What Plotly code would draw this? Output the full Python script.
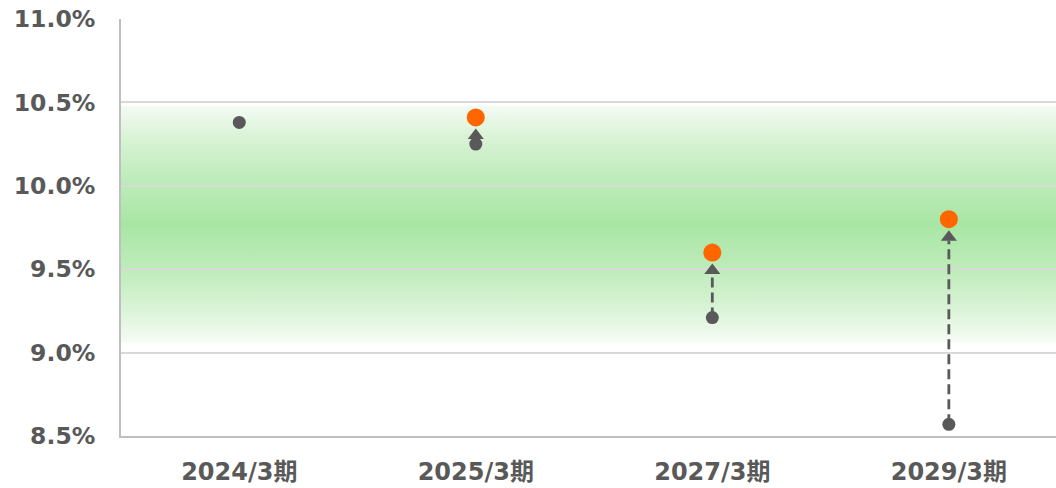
import base64
import plotly.graph_objects as go

categories = ["2024/3期", "2025/3期", "2027/3期", "2029/3期"]
before_values = [10.38, 10.25, 9.21, 8.57]      # gray points
after_values = [None, 10.41, 9.60, 9.80]        # orange points
band_low = 9.06
band_high = 10.48
tick_values = [8.5, 9.0, 9.5, 10.0, 10.5, 11.0]
tick_labels = ["8.5%", "9.0%", "9.5%", "10.0%", "10.5%", "11.0%"]

GRAY = "#595959"
ORANGE = "#FF6600"
FONT = "DejaVu Sans, Verdana, Noto Sans CJK JP, sans-serif"

# pixel -> data conversion for arrow offsets (plot height 417px spans 2.5 units)
PX = (tick_values[-1] - tick_values[0]) / 417.0
TIP_GAP = 11 * PX      # arrow tip gap below orange centre
HEAD_H = 10.5 * PX     # triangle height

fig = go.Figure()

# arrows (dashed shaft + triangle head)
for i, (b, a) in enumerate(zip(before_values, after_values)):
    if a is None:
        continue
    tip = a - TIP_GAP
    base = tip - HEAD_H
    if base > b:
        fig.add_trace(go.Scatter(
            x=[categories[i], categories[i]], y=[b, base], mode="lines",
            line=dict(color=GRAY, width=2.8, dash="10px,5px"),
            hoverinfo="skip", showlegend=False))
    fig.add_trace(go.Scatter(
        x=[categories[i]], y=[tip - 7 * PX], mode="markers",
        marker=dict(symbol="triangle-up", size=14, color=GRAY, line=dict(width=0)),
        hoverinfo="skip", showlegend=False))

fig.add_trace(go.Scatter(
    x=categories, y=before_values, mode="markers",
    marker=dict(size=13, color=GRAY, line=dict(width=0)), showlegend=False))
fig.add_trace(go.Scatter(
    x=categories, y=after_values, mode="markers",
    marker=dict(size=18, color=ORANGE, line=dict(width=0)), showlegend=False))

# gradient band as SVG image placed below gridlines
svg = ('<svg xmlns="http://www.w3.org/2000/svg" width="10" height="100" viewBox="0 0 10 100" '
       'preserveAspectRatio="none"><defs><linearGradient id="g" x1="0" y1="0" x2="0" y2="1">'
       '<stop offset="0" stop-color="#f4fbf3"/>'
       '<stop offset="0.15" stop-color="#d6f2d3"/>'
       '<stop offset="0.32" stop-color="#bdebb9"/>'
       '<stop offset="0.5" stop-color="#a9e6a4"/>'
       '<stop offset="0.68" stop-color="#bdebb9"/>'
       '<stop offset="0.85" stop-color="#d8f3d5"/>'
       '<stop offset="1" stop-color="#f6fcf5"/>'
       '</linearGradient></defs><rect x="0" y="0" width="10" height="100" fill="url(#g)"/></svg>')
src = "data:image/svg+xml;base64," + base64.b64encode(svg.encode()).decode()
fig.add_layout_image(dict(
    source=src, xref="paper", yref="y", x=0, y=band_high,
    sizex=1, sizey=band_high - band_low, sizing="stretch",
    xanchor="left", yanchor="top", layer="below", opacity=1))

fig.update_layout(
    width=1056, height=488,
    margin=dict(l=121, r=0, t=19, b=52),
    paper_bgcolor="white", plot_bgcolor="rgba(0,0,0,0)",
    font=dict(family=FONT, color=GRAY),
    showlegend=False,
)
fig.update_xaxes(
    type="category", categoryorder="array", categoryarray=categories,
    range=[-0.5, 3.453], showgrid=False, showline=True, linecolor="#bfbfbf",
    linewidth=2, ticks="", tickfont=dict(size=24, family=FONT, color=GRAY, weight="bold"),
    ticklabelstandoff=13, zeroline=False)
fig.update_yaxes(
    range=[tick_values[0], tick_values[-1]], tickvals=tick_values, ticktext=tick_labels,
    showgrid=True, gridcolor="#d9d9d9", gridwidth=2, showline=True, linecolor="#bfbfbf",
    linewidth=2, ticks="", tickfont=dict(size=23.5, family=FONT, color=GRAY, weight="bold"),
    ticklabelstandoff=19, zeroline=False)

fig.write_html("out.html")
